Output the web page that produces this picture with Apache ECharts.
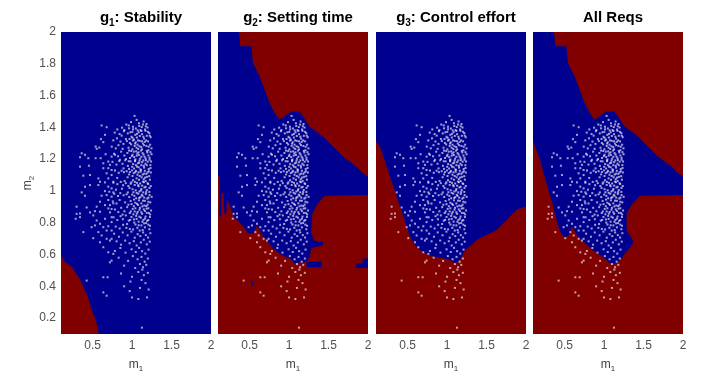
<!DOCTYPE html>
<html>
<head>
<meta charset="utf-8">
<script src="https://cdn.jsdelivr.net/npm/echarts@6/dist/echarts.min.js"></script>
<style>
  html, body { margin: 0; background: #fff; }
  #chart { width: 704px; height: 373px; }
</style>
</head>
<body>
<div id="chart"></div>
<script>
// panel titles: subscript index + rest of the title
const titles = [['1', ': Stability'], ['2', ': Setting time'], ['3', ': Control effort'], [null, 'All Reqs']];
const xTicks = [0.5, 1, 1.5, 2];
const yTicks = [0.2, 0.4, 0.6, 0.8, 1, 1.2, 1.4, 1.6, 1.8, 2];

const BLUE = '#00008f';
const RED = '#800000';

// whole parameter box (m1, m2)
const box = [[0.1, 0.1], [2, 0.1], [2, 2], [0.1, 2]];

// g1: unstable corner (bottom left)
const g1Red = [[0.1, 0.1], [0.1, 0.59], [0.15, 0.555], [0.24, 0.52], [0.34, 0.445],
  [0.43, 0.345], [0.5, 0.24], [0.55, 0.17], [0.58, 0.1]];

// upper edge of the setting time feasible region, left to right
const upperEdge = [[0.366, 2.0], [0.383, 1.91], [0.522, 1.91], [0.543, 1.805], [0.628, 1.72],
  [0.691, 1.637], [0.754, 1.553], [0.818, 1.49], [0.881, 1.448], [0.966, 1.479], [1.029, 1.5],
  [1.134, 1.5], [1.177, 1.469], [1.261, 1.406], [1.345, 1.374], [1.43, 1.343], [1.514, 1.3],
  [1.599, 1.259], [1.683, 1.217], [1.768, 1.185], [1.852, 1.154], [1.937, 1.112], [2.0, 1.091]];

// lower edge of the setting time feasible region, right to left
const g2Lower = [[2.0, 0.975], [1.451, 0.969], [1.367, 0.923], [1.295, 0.86], [1.282, 0.734],
  [1.324, 0.687], [1.43, 0.681], [1.43, 0.66], [1.282, 0.639], [1.261, 0.587], [1.219, 0.555],
  [1.071, 0.545], [1.008, 0.576], [0.902, 0.597], [0.797, 0.639], [0.733, 0.681], [0.67, 0.713],
  [0.628, 0.755], [0.586, 0.78], [0.552, 0.734], [0.48, 0.734], [0.417, 0.776], [0.353, 0.813],
  [0.298, 0.839], [0.269, 0.881], [0.239, 0.923], [0.214, 0.944], [0.206, 0.86], [0.18, 0.86],
  [0.172, 0.986], [0.142, 0.986], [0.138, 0.839], [0.121, 0.839], [0.121, 1.091], [0.1, 1.091]];

// small feasible islands for g2
const g2Bits = [
  [[1.22, 0.52], [1.41, 0.52], [1.41, 0.555], [1.22, 0.555]],
  [[1.85, 0.515], [2.0, 0.515], [2.0, 0.575], [1.93, 0.575], [1.93, 0.545], [1.85, 0.545]],
  [[0.52, 0.404], [0.55, 0.404], [0.55, 0.43], [0.52, 0.43]]
];

// g3: control effort limit, left to right
const g3Edge = [[0.1, 1.311], [0.151, 1.28], [0.193, 1.217], [0.235, 1.154], [0.277, 1.091],
  [0.32, 1.028], [0.362, 0.965], [0.404, 0.902], [0.446, 0.839], [0.488, 0.776], [0.531, 0.713],
  [0.594, 0.66], [0.657, 0.629], [0.742, 0.603], [0.826, 0.587], [0.953, 0.576], [1.037, 0.566],
  [1.101, 0.545], [1.164, 0.566], [1.206, 0.608], [1.248, 0.639], [1.312, 0.66], [1.375, 0.692],
  [1.46, 0.713], [1.544, 0.734], [1.628, 0.755], [1.713, 0.797], [1.797, 0.839], [1.882, 0.881],
  [1.966, 0.897], [2.0, 0.902]];

// all requirements: lower edge, right to left
const allLower = [[2.0, 0.975], [1.455, 0.969], [1.358, 0.919], [1.286, 0.86], [1.286, 0.755],
  [1.341, 0.708], [1.371, 0.681], [1.341, 0.65], [1.265, 0.608], [1.223, 0.576], [1.16, 0.545],
  [1.075, 0.545], [0.978, 0.587], [0.864, 0.625], [0.75, 0.675], [0.653, 0.723], [0.624, 0.755],
  [0.59, 0.776], [0.556, 0.723], [0.505, 0.708], [0.455, 0.734], [0.421, 0.776], [0.387, 0.839],
  [0.345, 0.923], [0.294, 1.007], [0.252, 1.08], [0.201, 1.175], [0.151, 1.248], [0.1, 1.311]];

// sample points (m1, m2)
const dotsLeft = [[0.615, 1.412], [0.678, 1.401], [0.657, 1.353], [0.606, 1.326], [0.636, 1.307],
  [0.539, 1.279], [0.585, 1.273], [0.552, 1.265], [0.665, 1.231], [0.362, 1.237], [0.404, 1.227],
  [0.341, 1.212], [0.446, 1.206], [0.539, 1.206], [0.602, 1.206], [0.741, 1.216], [0.784, 1.227],
  [0.699, 1.185], [0.636, 1.174], [0.72, 1.164], [0.341, 1.153], [0.454, 1.159], [0.636, 1.143],
  [0.699, 1.143], [0.741, 1.132], [0.383, 1.096], [0.467, 1.1], [0.573, 1.079], [0.678, 1.111],
  [0.741, 1.1], [0.699, 1.079], [0.763, 1.058], [0.594, 1.058], [0.657, 1.054], [0.467, 1.037],
  [0.404, 1.027], [0.573, 1.037], [0.699, 1.027], [0.741, 1.016], [0.362, 0.991], [0.657, 0.999],
  [0.712, 0.995], [0.763, 0.991], [0.404, 0.97], [0.615, 0.97], [0.678, 0.974], [0.741, 0.964],
  [0.699, 0.943], [0.594, 0.932], [0.657, 0.911], [0.72, 0.911], [0.763, 0.922], [0.298, 0.901],
  [0.425, 0.896], [0.552, 0.901], [0.699, 0.89], [0.741, 0.886], [0.341, 0.858], [0.467, 0.865],
  [0.53, 0.873], [0.594, 0.869], [0.72, 0.865], [0.298, 0.856], [0.286, 0.825], [0.341, 0.835],
  [0.509, 0.846], [0.552, 0.814], [0.657, 0.825], [0.741, 0.835], [0.741, 0.804], [0.594, 0.793],
  [0.53, 0.783], [0.488, 0.772], [0.636, 0.772], [0.699, 0.778], [0.383, 0.741], [0.573, 0.741],
  [0.678, 0.751], [0.741, 0.751], [0.615, 0.72], [0.509, 0.703], [0.678, 0.699], [0.741, 0.699],
  [0.594, 0.678], [0.72, 0.688], [0.636, 0.646], [0.699, 0.614], [0.763, 0.604], [0.72, 0.551],
  [0.741, 0.562], [0.636, 0.457], [0.691, 0.457], [0.425, 0.436], [0.636, 0.362], [0.678, 0.341]];

const dotsCore = [
  [1.032, 1.472], [1.058, 1.447], [0.987, 1.433], [1.146, 1.437], [1.183, 1.421], [0.927, 1.418],
  [1.091, 1.409], [0.874, 1.398], [1.123, 1.402], [0.813, 1.387], [0.962, 1.394], [1.196, 1.399],
  [1.013, 1.388], [1.072, 1.381], [1.164, 1.386], [0.903, 1.383],
  [0.781, 1.367], [0.842, 1.358], [0.897, 1.376], [0.946, 1.362], [1.003, 1.372], [1.041, 1.353],
  [1.083, 1.369], [1.127, 1.357], [1.171, 1.378], [1.218, 1.364], [0.868, 1.348], [1.108, 1.383],
  [1.187, 1.347], [0.993, 1.341], [1.061, 1.336], [1.152, 1.329], [0.922, 1.327], [1.236, 1.338],
  [0.809, 1.331], [1.024, 1.322],
  [0.762, 1.318], [0.853, 1.311], [0.891, 1.296], [0.934, 1.314], [0.972, 1.302], [1.011, 1.317],
  [1.047, 1.306], [1.069, 1.291], [1.098, 1.315], [1.137, 1.298], [1.161, 1.309], [1.203, 1.312],
  [1.229, 1.291], [1.033, 1.283], [0.743, 1.279], [0.794, 1.268], [0.828, 1.288], [0.955, 1.272],
  [1.117, 1.276], [1.182, 1.283], [1.246, 1.268], [1.004, 1.262], [1.079, 1.264], [0.881, 1.265],
  [0.771, 1.234], [0.823, 1.218], [0.862, 1.247], [0.903, 1.223], [0.941, 1.239], [0.974, 1.207],
  [1.006, 1.228], [1.027, 1.213], [1.052, 1.249], [1.086, 1.226], [1.102, 1.203], [1.133, 1.238],
  [1.158, 1.216], [1.193, 1.242], [1.221, 1.209], [1.247, 1.231], [1.043, 1.198], [1.114, 1.254],
  [0.989, 1.251], [1.067, 1.236], [1.176, 1.194], [0.846, 1.196], [1.208, 1.256], [0.924, 1.201],
  [0.752, 1.183], [0.803, 1.166], [0.838, 1.188], [0.879, 1.171], [0.913, 1.193], [0.947, 1.158],
  [0.982, 1.186], [1.014, 1.169], [1.038, 1.187], [1.063, 1.153], [1.091, 1.178], [1.118, 1.162],
  [1.143, 1.192], [1.169, 1.171], [1.198, 1.184], [1.232, 1.162], [1.074, 1.174], [1.152, 1.147],
  [0.961, 1.139], [1.026, 1.141], [1.211, 1.138], [0.892, 1.142], [1.106, 1.136], [1.241, 1.185],
  [0.784, 1.128], [0.831, 1.114], [0.868, 1.127], [0.897, 1.118], [0.932, 1.124], [0.963, 1.104],
  [0.998, 1.129], [1.022, 1.112], [1.049, 1.126], [1.081, 1.117], [1.109, 1.121], [1.134, 1.103],
  [1.162, 1.127], [1.181, 1.108], [1.213, 1.124], [1.238, 1.116], [1.097, 1.094], [1.191, 1.089],
  [0.812, 1.082], [0.944, 1.086], [1.057, 1.079], [1.149, 1.074], [1.226, 1.071], [1.012, 1.068],
  [0.906, 1.063], [1.173, 1.062],
  [0.763, 1.052], [0.814, 1.043], [0.857, 1.057], [0.887, 1.036], [0.921, 1.049], [0.953, 1.031],
  [0.991, 1.054], [1.034, 1.038], [1.063, 1.051], [1.084, 1.029], [1.103, 1.047], [1.128, 1.033],
  [1.151, 1.055], [1.172, 1.026], [1.204, 1.044], [1.237, 1.031], [1.118, 1.012], [1.186, 1.006],
  [0.796, 1.008], [0.872, 1.014], [0.968, 1.019], [1.046, 1.004], [1.093, 0.997], [1.219, 0.994],
  [1.017, 0.992], [1.142, 0.991],
  [0.774, 0.982], [0.822, 0.968], [0.851, 0.986], [0.893, 0.973], [0.931, 0.979], [0.964, 0.962],
  [1.002, 0.977], [1.029, 0.969], [1.053, 0.954], [1.078, 0.983], [1.104, 0.961], [1.123, 0.976],
  [1.154, 0.958], [1.174, 0.981], [1.193, 0.952], [1.222, 0.974], [1.248, 0.963], [1.139, 0.939],
  [0.756, 0.934], [0.803, 0.921], [0.843, 0.943], [0.912, 0.928], [0.982, 0.937], [1.041, 0.926],
  [1.087, 0.941], [1.207, 0.932],
  [0.784, 0.884], [0.826, 0.867], [0.862, 0.894], [0.903, 0.872], [0.938, 0.898], [0.971, 0.861],
  [1.008, 0.887], [1.033, 0.871], [1.061, 0.857], [1.094, 0.882], [1.117, 0.866], [1.131, 0.903],
  [1.163, 0.874], [1.184, 0.889], [1.213, 0.861], [1.241, 0.877], [1.076, 0.912], [1.156, 0.908],
  [0.953, 0.913], [1.022, 0.904], [1.197, 0.914], [0.879, 0.851],
  [0.766, 0.834], [0.813, 0.817], [0.854, 0.841], [0.884, 0.822], [0.921, 0.846], [0.958, 0.813],
  [0.993, 0.836], [1.024, 0.821], [1.052, 0.843], [1.083, 0.807], [1.112, 0.832], [1.143, 0.818],
  [1.171, 0.839], [1.192, 0.812], [1.226, 0.836], [1.153, 0.796], [1.043, 0.789], [1.206, 0.788],
  [0.937, 0.792], [1.118, 0.783],
  [0.793, 0.776], [0.843, 0.764], [0.887, 0.787], [0.928, 0.768], [0.972, 0.761], [1.013, 0.758],
  [1.067, 0.768], [1.097, 0.751], [1.134, 0.754], [1.163, 0.771], [1.219, 0.759], [0.773, 0.731],
  [0.834, 0.712], [0.882, 0.739], [0.943, 0.721], [0.992, 0.744], [1.034, 0.706], [1.071, 0.728],
  [1.104, 0.716], [1.141, 0.739], [1.174, 0.722], [1.203, 0.707], [1.232, 0.734],
  [0.804, 0.683], [0.861, 0.662], [0.913, 0.688], [0.969, 0.671], [1.022, 0.684], [1.058, 0.657],
  [1.111, 0.676], [1.148, 0.693], [1.187, 0.664], [1.224, 0.681], [0.783, 0.622], [0.852, 0.641],
  [0.917, 0.612], [0.994, 0.633], [1.047, 0.616], [1.089, 0.642], [1.127, 0.621], [1.168, 0.606],
  [1.209, 0.631]];

// the densest part of the cloud
const dotsDense = [
  [1.012, 1.404], [1.087, 1.426], [1.139, 1.418], [0.958, 1.412], [1.174, 1.407], [1.049, 1.393],
  [1.118, 1.377], [0.979, 1.369], [1.203, 1.372], [1.062, 1.359], [1.098, 1.346], [1.143, 1.341],
  [1.007, 1.334], [1.224, 1.348], [0.968, 1.327], [1.076, 1.318], [1.178, 1.318], [1.126, 1.312],
  [1.038, 1.298], [0.989, 1.293], [1.152, 1.288], [1.211, 1.278], [1.094, 1.281], [1.058, 1.272],
  [0.961, 1.254], [1.127, 1.262], [1.187, 1.252], [1.022, 1.247], [1.083, 1.243], [1.233, 1.244],
  [1.146, 1.229], [0.998, 1.219], [1.059, 1.222], [1.118, 1.215], [1.207, 1.223], [1.171, 1.206],
  [1.037, 1.192], [1.094, 1.191], [0.958, 1.187], [1.222, 1.196], [1.128, 1.181], [1.186, 1.162],
  [1.048, 1.162], [1.002, 1.152], [1.083, 1.149], [1.148, 1.158], [1.234, 1.144], [1.112, 1.131],
  [1.041, 1.118], [1.197, 1.117], [0.973, 1.119], [1.153, 1.109], [1.069, 1.102], [1.121, 1.086],
  [1.218, 1.093], [1.006, 1.094], [1.088, 1.071], [1.166, 1.084], [1.036, 1.057], [1.138, 1.059],
  [1.197, 1.048], [0.982, 1.046], [1.077, 1.036], [1.157, 1.022], [1.221, 1.019], [1.006, 1.011],
  [1.113, 1.003], [1.058, 0.988], [1.179, 0.993], [0.947, 0.991], [1.132, 0.969], [1.091, 0.956],
  [1.208, 0.958], [1.026, 0.946], [1.163, 0.938], [1.063, 0.919], [1.118, 0.922], [0.993, 0.917],
  [1.231, 0.928], [1.181, 0.905], [1.042, 0.891], [1.148, 0.884], [1.101, 0.894], [1.206, 0.891],
  [0.984, 0.871], [1.072, 0.868], [1.187, 0.862], [1.128, 0.856], [1.017, 0.853], [1.229, 0.852],
  [1.093, 0.838], [1.163, 0.826], [1.058, 0.824], [1.206, 0.817], [0.976, 0.818], [1.131, 0.806],
  [1.028, 0.801], [1.178, 0.798], [1.083, 0.784], [1.228, 0.781]];

const dotsLow = [[0.83, 0.58], [0.95, 0.56], [1.01, 0.59], [1.07, 0.57], [1.12, 0.585], [1.16, 0.555],
  [1.2, 0.575], [0.9, 0.53], [1.04, 0.515], [1.1, 0.54], [1.14, 0.52], [1.18, 0.535], [1.13, 0.505],
  [0.86, 0.48], [1.0, 0.46], [1.08, 0.49], [1.15, 0.47], [1.2, 0.485], [0.98, 0.43], [1.12, 0.44],
  [1.17, 0.42], [0.97, 0.37], [1.0, 0.33], [1.08, 0.32], [1.19, 0.33], [1.1, 0.39], [1.125, 0.14],
  [0.9, 0.4], [1.21, 0.38]];

const dots = dotsLeft.concat(dotsCore, dotsDense, dotsLow);

const panels = [
  [{pts: box, color: BLUE}, {pts: g1Red, color: RED}],
  [{pts: box, color: RED}, {pts: [[0.1, 2]].concat(upperEdge, g2Lower), color: BLUE}]
    .concat(g2Bits.map(p => ({pts: p, color: BLUE}))),
  [{pts: box, color: BLUE}, {pts: g3Edge.concat([[2, 0.1], [0.1, 0.1]]), color: RED}],
  [{pts: box, color: RED}, {pts: [[0.1, 2]].concat(upperEdge, allLower), color: BLUE}]
];

const lefts = [61, 218, 376, 533];
const W = 150, TOP = 32, H = 302;
const FONT = 'Liberation Sans';

const rich = {
  b: {fontSize: 15, fontWeight: 'bold', color: '#000', lineHeight: 20, fontFamily: FONT},
  s: {fontSize: 10, fontWeight: 'bold', color: '#000', lineHeight: 10, padding: [10, 0, 0, 0], fontFamily: FONT}
};
const nameRich = {
  n: {fontSize: 12, color: '#404040', lineHeight: 16, fontFamily: FONT},
  s: {fontSize: 8, color: '#404040', lineHeight: 8, padding: [8, 0, 0, 0], fontFamily: FONT}
};

const chart = echarts.init(document.getElementById('chart'), null, {renderer: 'canvas'});

const option = {
  animation: false,
  backgroundColor: '#fff',
  title: titles.map((t, i) => ({
    text: t[0] ? `{b|g}{s|${t[0]}}{b|${t[1]}}` : `{b|${t[1]}}`,
    left: lefts[i] + W / 2,
    top: 3,
    textAlign: 'center',
    textStyle: {rich}
  })),
  grid: lefts.map(l => ({left: l, top: TOP, width: W, height: H, outerBoundsMode: 'none', containLabel: false})),
  xAxis: lefts.map((l, i) => ({
    type: 'value', gridIndex: i, min: 0.1, max: 2,
    name: '{n|m}{s|1}', nameLocation: 'middle', nameGap: 21,
    nameTextStyle: {rich: nameRich},
    axisLine: {show: false}, axisTick: {show: false}, splitLine: {show: false},
    axisLabel: {customValues: xTicks, fontSize: 12, color: '#505050', margin: 6, fontFamily: FONT}
  })),
  yAxis: lefts.map((l, i) => ({
    type: 'value', gridIndex: i, min: 0.1, max: 2,
    name: i === 0 ? '{n|m}{s|2}' : '', nameLocation: 'middle', nameGap: 24,
    nameTextStyle: {rich: nameRich},
    axisLine: {show: false}, axisTick: {show: false}, splitLine: {show: false},
    axisLabel: {show: i === 0, customValues: yTicks, fontSize: 12, color: '#505050', margin: 5,
      fontFamily: FONT}
  })),
  series: []
};

panels.forEach((shapes, i) => {
  option.series.push({
    type: 'custom', xAxisIndex: i, yAxisIndex: i, silent: true, clip: true,
    data: shapes.map(s => s.pts[0]),
    renderItem: (params, api) => {
      const s = shapes[params.dataIndex];
      return {
        type: 'polygon',
        shape: {points: s.pts.map(p => api.coord(p))},
        style: {fill: s.color}
      };
    }
  });
  option.series.push({
    type: 'scatter', xAxisIndex: i, yAxisIndex: i, silent: true,
    symbol: 'rect', symbolSize: 2,
    itemStyle: {color: 'rgba(235,235,245,0.85)'},
    data: dots
  });
});

chart.setOption(option);
</script>
</body>
</html>
